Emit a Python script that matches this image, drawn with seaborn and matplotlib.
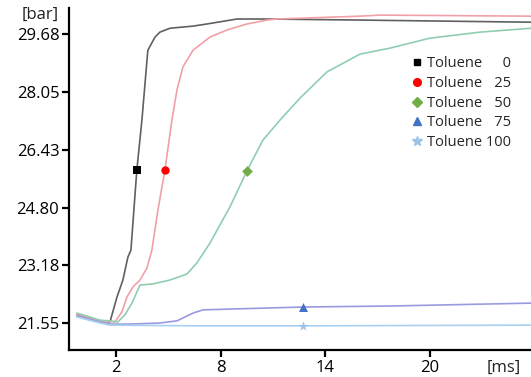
import matplotlib
matplotlib.use("Agg")
import matplotlib.pyplot as plt
from matplotlib.lines import Line2D
import seaborn as sns
import pandas as pd

# ---- data (time in ms, pressure in bar) ----
labels = ["Toluene \u2007\u20070", "Toluene \u200725", "Toluene \u200750", "Toluene \u200775", "Toluene 100"]

t0 = [-0.24, 0.51, 1.08, 1.66, 2.06, 2.40, 2.69, 2.86, 3.03, 3.20, 3.49, 3.83, 4.24, 4.52, 5.10, 6.42, 7.22, 8.94, 10.66, 15.99, 25.80]
p0 = [21.78, 21.69, 21.61, 21.58, 22.28, 22.76, 23.41, 23.60, 24.73, 25.86, 27.26, 29.23, 29.60, 29.74, 29.85, 29.91, 29.97, 30.11, 30.11, 30.08, 30.02]

t25 = [-0.24, 0.51, 1.08, 1.94, 2.34, 2.63, 2.97, 3.38, 3.78, 4.06, 4.41, 4.81, 5.21, 5.50, 5.84, 6.42, 7.39, 8.36, 9.51, 10.66, 11.23, 15.99, 17.14, 25.80]
p25 = [21.80, 21.69, 21.61, 21.58, 21.86, 22.28, 22.56, 22.76, 23.10, 23.60, 24.73, 25.86, 27.26, 28.11, 28.76, 29.23, 29.60, 29.80, 29.97, 30.08, 30.11, 30.19, 30.22, 30.19]

t50 = [-0.24, 0.51, 1.08, 1.66, 2.11, 2.52, 2.92, 3.38, 4.12, 5.10, 6.07, 6.64, 7.39, 8.54, 9.51, 10.43, 11.40, 12.55, 14.10, 15.99, 17.71, 20.0, 22.87, 25.80]
p50 = [21.83, 21.72, 21.63, 21.61, 21.58, 21.78, 22.11, 22.62, 22.65, 22.76, 22.93, 23.24, 23.80, 24.82, 25.83, 26.70, 27.26, 27.88, 28.62, 29.12, 29.29, 29.57, 29.74, 29.85]

t75 = [-0.24, 1.08, 1.66, 2.80, 4.52, 5.50, 6.42, 6.99, 8.36, 12.72, 17.88, 25.80]
p75 = [21.75, 21.58, 21.52, 21.52, 21.55, 21.61, 21.83, 21.92, 21.94, 22.00, 22.03, 22.11]

t100 = [-0.24, 1.08, 1.66, 6.82, 12.72, 25.80]
p100 = [21.72, 21.55, 21.49, 21.47, 21.47, 21.49]

marker_t = [3.20, 4.81, 9.51, 12.72, 12.72]
marker_p = [25.86, 25.86, 25.83, 22.00, 21.47]

x_ticks = [2, 8, 14, 20]
y_ticks = [21.55, 23.18, 24.80, 26.43, 28.05, 29.68]
y_tick_labels = ["21.55", "23.18", "24.80", "26.43", "28.05", "29.68"]

# ---- styles ----
line_colors = ["#606060", "#f2a0a8", "#90ceb0", "#9a9ae0", "#a8d0f0"]
marker_colors = ["#000000", "#ff0000", "#70ad47", "#4472c4", "#9dc3e6"]
marker_shapes = ["s", "o", "D", "^", "*"]
marker_sizes = [32, 36, 30, 42, 55]

sns.set_theme(style="white")
plt.rcParams["font.family"] = ["Open Sans", "DejaVu Sans"]

series_t = [t0, t25, t50, t75, t100]
series_p = [p0, p25, p50, p75, p100]
rows = []
for lab, ts, ps in zip(labels, series_t, series_p):
    for t, p in zip(ts, ps):
        rows.append({"t": t, "p": p, "series": lab})
df = pd.DataFrame(rows)
mdf = pd.DataFrame({"t": marker_t, "p": marker_p, "series": labels})

fig = plt.figure(figsize=(5.31, 3.77), dpi=100)
ax = fig.add_axes([69 / 531, 27 / 377, 462 / 531, 342 / 377])

sns.lineplot(data=df, x="t", y="p", hue="series", palette=dict(zip(labels, line_colors)),
             estimator=None, sort=False, legend=False, linewidth=1.2, ax=ax)
for lab, c, m, s in zip(labels, marker_colors, marker_shapes, marker_sizes):
    sub = mdf[mdf["series"] == lab]
    sns.scatterplot(data=sub, x="t", y="p", color=c, marker=m, s=s, linewidth=0,
                    legend=False, ax=ax, zorder=5)

ax.set_xlim(-0.69, 25.80)
ax.set_ylim(20.79, 30.42)
ax.set_xticks(x_ticks)
ax.set_xticklabels([str(v) for v in x_ticks])
ax.set_yticks(y_ticks)
ax.set_yticklabels(y_tick_labels)
ax.set_xlabel("")
ax.set_ylabel("")
for side in ["top", "right"]:
    ax.spines[side].set_visible(False)
for side in ["left", "bottom"]:
    ax.spines[side].set_color("black")
    ax.spines[side].set_linewidth(1.6)
ax.tick_params(axis="both", which="both", direction="out", length=5, width=1.6,
               color="black", labelsize=12, labelcolor="black", pad=2,
               bottom=True, left=True)

fig.text(40 / 531, 1 - 15 / 377, "[bar]", ha="center", va="center", fontsize=12, color="#222222")
fig.text(504 / 531, 1 - 368 / 377, "[ms]", ha="center", va="center", fontsize=12, color="#222222")

handles = [Line2D([], [], marker=m, color=c, linestyle="none", markersize=ms)
           for m, c, ms in zip(marker_shapes, marker_colors, [5, 5.5, 5.5, 6, 7])]
ax.legend(handles, labels, loc="upper left", frameon=False,
          bbox_to_anchor=((411 - 69) / 462, (350 - 56) / 342),
          fontsize=10.5, handlelength=0.8, handletextpad=0.3, labelspacing=0.33,
          borderpad=0, borderaxespad=0)

fig.savefig("out.png", dpi=100)
